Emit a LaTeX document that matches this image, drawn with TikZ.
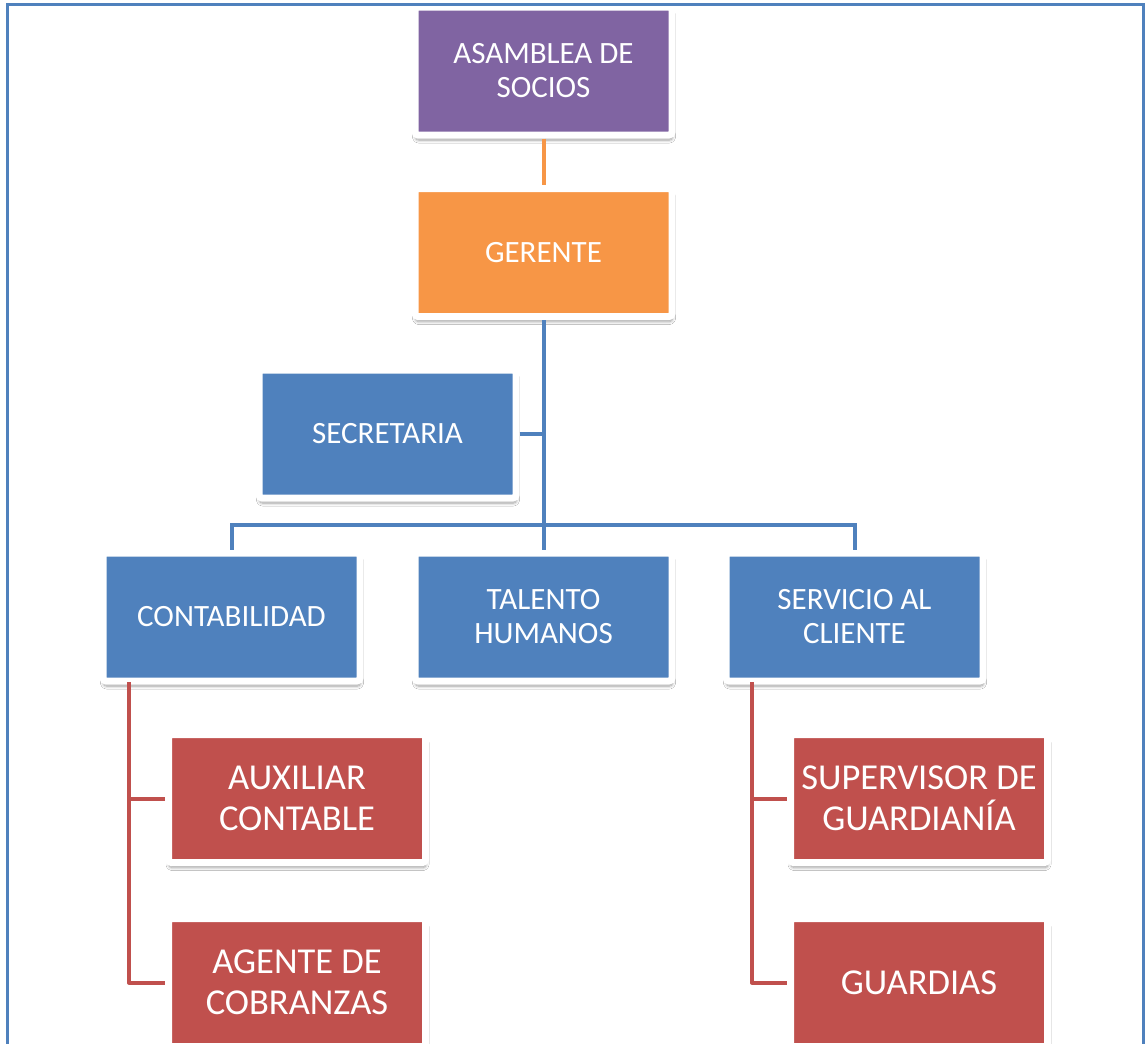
\documentclass[tikz,border=0pt]{standalone}
\usepackage{fontspec}
\setmainfont{Carlito}
\usetikzlibrary{shadows.blur}
\definecolor{cpurple}{HTML}{8064A2}
\definecolor{corange}{HTML}{F79646}
\definecolor{cblue}{HTML}{4F81BD}
\definecolor{cred}{HTML}{C0504D}
\tikzset{
  orgbox/.style={draw=white, line width=7, rounded corners=3, minimum width=257, minimum height=128,
    inner sep=0, align=center, text=white, font=\fontsize{31}{34}\selectfont,
    blur shadow={shadow xshift=0.5pt, shadow yshift=-5pt, shadow blur steps=6, shadow blur radius=3pt, shadow opacity=40, shadow scale=1.0}},
  redbox/.style={orgbox, fill=cred, font=\fontsize{36.5}{41}\selectfont},
  bluebox/.style={orgbox, fill=cblue},
  bline/.style={draw=cblue, line width=4},
  rline/.style={draw=cred, line width=4, line join=round},
  oline/.style={draw=corange, line width=4},
}
\begin{document}
\begin{tikzpicture}[x=1pt,y=-1pt]
\useasboundingbox (0,0) rectangle (1146,1044);
\fill[white] (0,0) rectangle (1146,1044);
% nodes
\node[orgbox, fill=cpurple] (asamblea) at (543.5,71) {ASAMBLEA DE\\SOCIOS};
\node[orgbox, fill=corange] (gerente) at (543.5,252.5) {GERENTE};
\node[bluebox] (secretaria) at (387.5,434) {SECRETARIA};
\node[bluebox] (contab) at (231.5,617) {CONTABILIDAD};
\node[bluebox] (talento) at (543.5,617) {TALENTO\\HUMANOS};
\node[bluebox] (servicio) at (854.5,617) {SERVICIO AL\\CLIENTE};
\node[redbox] (auxiliar) at (297,798.5) {AUXILIAR\\CONTABLE};
\node[redbox] (agente) at (297,982.5) {AGENTE DE\\COBRANZAS};
\node[redbox] (supervisor) at (919,798.5) {SUPERVISOR DE\\GUARDIANÍA};
\node[redbox] (guardias) at (919,982.5) {GUARDIAS};
% connectors
\coordinate (bus) at (543.5,525);
\coordinate (cl) at (129,682);
\coordinate (sl) at (752,682);
\draw[oline] (asamblea.south) -- (gerente.north);
\draw[bline] (gerente.south) -- (talento.north);
\draw[bline] (secretaria.east) -- (secretaria.east -| bus);
\draw[bline] (contab.north) |- (bus) -| (servicio.north);
\draw[rline] (cl) |- (agente.west);
\draw[rline] (auxiliar.west -| cl) -- (auxiliar.west);
\draw[rline] (sl) |- (guardias.west);
\draw[rline] (supervisor.west -| sl) -- (supervisor.west);
% frame
\coordinate (f1) at (7,1050);
\coordinate (f2) at (7,4);
\coordinate (f3) at (1143,4);
\coordinate (f4) at (1143,1050);
\draw[cblue, line width=3] (f1) -- (f2) -- (f3) -- (f4);
\end{tikzpicture}
\end{document}
